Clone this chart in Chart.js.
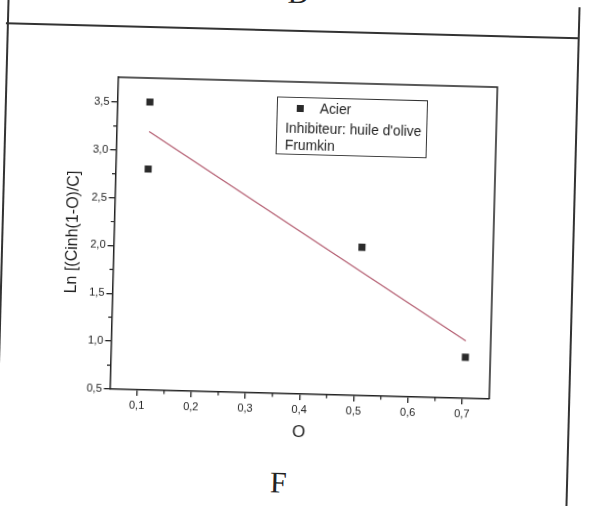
<!DOCTYPE html>
<html>
<head>
<meta charset="utf-8">
<script src="https://cdn.jsdelivr.net/npm/chart.js@4.4.1/dist/chart.umd.min.js"></script>
<style>
  html, body { margin: 0; padding: 0; background: #fff; overflow: hidden; }
  #page {
    position: relative; width: 597px; height: 506px; background: #fff;
    transform: rotate(1.5deg); transform-origin: 298.5px 253px;
  }
  #graphCanvas { position: absolute; left: 0; top: 0; }
  .rule { position: absolute; background: #333; }
  .letter { position: absolute; font-family: 'Liberation Serif', 'DejaVu Serif', serif; font-size: 30px; color: #222; line-height: 1; }
  #legendBox {
    position: absolute; left: 273px; top: 97px; width: 151px; height: 58px;
    border: 1px solid #333; box-sizing: border-box;
    font-family: 'Liberation Sans', Arial, sans-serif; font-size: 13.8px; color: #1e1e1e;
  }
  #legendBox div { position: absolute; white-space: nowrap; line-height: 14px; }
  #legendBox .mark { width: 7px; height: 7px; background: #2a2a2a; left: 19px; top: 7px; }
</style>
</head>
<body>
<div id="page">
  <!-- scanned page borders -->
  <div class="rule" style="left:0; top:30px; width:573px; height:1.5px;"></div>
  <div class="rule" style="left:1px; top:0; width:1.5px; height:506px;"></div>
  <div class="rule" style="left:572px; top:0; width:1.5px; height:506px;"></div>
  <div class="letter" style="left:281px; top:-22px;">D</div>
  <div class="letter" style="left:276px; top:468px;">F</div>

  <canvas id="graphCanvas" width="597" height="506"></canvas>

  <div id="legendBox">
    <div class="mark"></div>
    <div style="left:42px; top:4px;">Acier</div>
    <div style="left:8px; top:24px;">Inhibiteur: huile d'olive</div>
    <div style="left:8px; top:41px;">Frumkin</div>
  </div>
</div>

<script>
// measured points (theta, Ln[...])
let thetaVals = [0.11, 0.11, 0.508, 0.704];
let lnVals = [3.51, 2.81, 2.05, 0.93];

// linear fit line (Frumkin) ends
let fitTheta = [0.11, 0.704];
let fitLn = [3.20, 1.10];

// tick labels
let xTickVals = [0.1, 0.2, 0.3, 0.4, 0.5, 0.6, 0.7];
let yTickVals = [0.5, 1.0, 1.5, 2.0, 2.5, 3.0, 3.5];

function toPoints(xs, ys) {
    return xs.map(function(x, i) { return { x: x, y: ys[i] }; });
}

function commaLabel(v) {
    return Number(v).toFixed(1).replace('.', ',');
}

// frame on top/right + small ticks between the big ones
const framePlugin = {
    id: 'frame',
    afterDraw: function(chart) {
        let ctx = chart.ctx;
        let a = chart.chartArea;
        let xs = chart.scales.x;
        let ys = chart.scales.y;
        ctx.save();
        ctx.strokeStyle = '#222';
        ctx.lineWidth = 1.5;
        ctx.beginPath();
        ctx.moveTo(a.left, a.top);
        ctx.lineTo(a.right, a.top);
        ctx.lineTo(a.right, a.bottom);
        ctx.stroke();

        ctx.lineWidth = 1.2;
        ctx.beginPath();
        for (let i = 0; i < xTickVals.length - 1; i++) {
            let px = xs.getPixelForValue((xTickVals[i] + xTickVals[i + 1]) / 2);
            ctx.moveTo(px, a.bottom);
            ctx.lineTo(px, a.bottom + 3.5);
        }
        for (let i = 0; i < yTickVals.length - 1; i++) {
            let py = ys.getPixelForValue((yTickVals[i] + yTickVals[i + 1]) / 2);
            ctx.moveTo(a.left, py);
            ctx.lineTo(a.left - 3.5, py);
        }
        ctx.stroke();
        ctx.restore();
    }
};

Chart.defaults.font.family = "'Liberation Sans', Arial, sans-serif";
Chart.defaults.color = '#1e1e1e';

let canvas = document.getElementById('graphCanvas').getContext('2d');
let chart = new Chart(canvas, {
    type: 'scatter',
    data: {
        datasets: [{
            label: 'Acier',
            data: toPoints(thetaVals, lnVals),
            pointStyle: 'rect',
            pointRadius: 5,
            backgroundColor: '#2a2a2a',
            borderWidth: 0
        }, {
            type: 'line',
            label: 'Frumkin',
            data: toPoints(fitTheta, fitLn),
            borderColor: '#b25a6e',
            borderWidth: 1.2,
            pointRadius: 0,
            fill: false
        }]
    },
    plugins: [framePlugin],
    options: {
        responsive: false,
        animation: false,
        events: [],
        layout: { padding: { left: 0, top: 82, right: 104, bottom: 0 } },
        plugins: {
            legend: { display: false },
            tooltip: { enabled: false }
        },
        scales: {
            x: {
                type: 'linear',
                min: 0.05,
                max: 0.75,
                afterBuildTicks: function(scale) {
                    scale.ticks = xTickVals.map(function(v) { return { value: v }; });
                },
                afterFit: function(scale) { scale.height = 112; },
                ticks: {
                    callback: commaLabel,
                    font: { size: 11 },
                    padding: 3,
                    maxRotation: 0
                },
                grid: { drawOnChartArea: false, tickLength: 6, color: '#222', lineWidth: 1.3 },
                border: { display: true, color: '#222', width: 1.5 },
                title: {
                    display: true,
                    text: 'O',
                    font: { size: 17 },
                    padding: { top: 0, bottom: 63 }
                }
            },
            y: {
                type: 'linear',
                min: 0.5,
                max: 3.76,
                afterBuildTicks: function(scale) {
                    scale.ticks = yTickVals.map(function(v) { return { value: v }; });
                },
                afterFit: function(scale) { scale.width = 113.5; },
                ticks: {
                    callback: commaLabel,
                    font: { size: 11 },
                    padding: 2
                },
                grid: { drawOnChartArea: false, tickLength: 6, color: '#222', lineWidth: 1.3 },
                border: { display: true, color: '#222', width: 1.5 },
                title: {
                    display: true,
                    text: 'Ln [(Cinh(1-O)/C]',
                    font: { size: 16 },
                    padding: { top: 63, bottom: 0 }
                }
            }
        }
    }
});
</script>
</body>
</html>
